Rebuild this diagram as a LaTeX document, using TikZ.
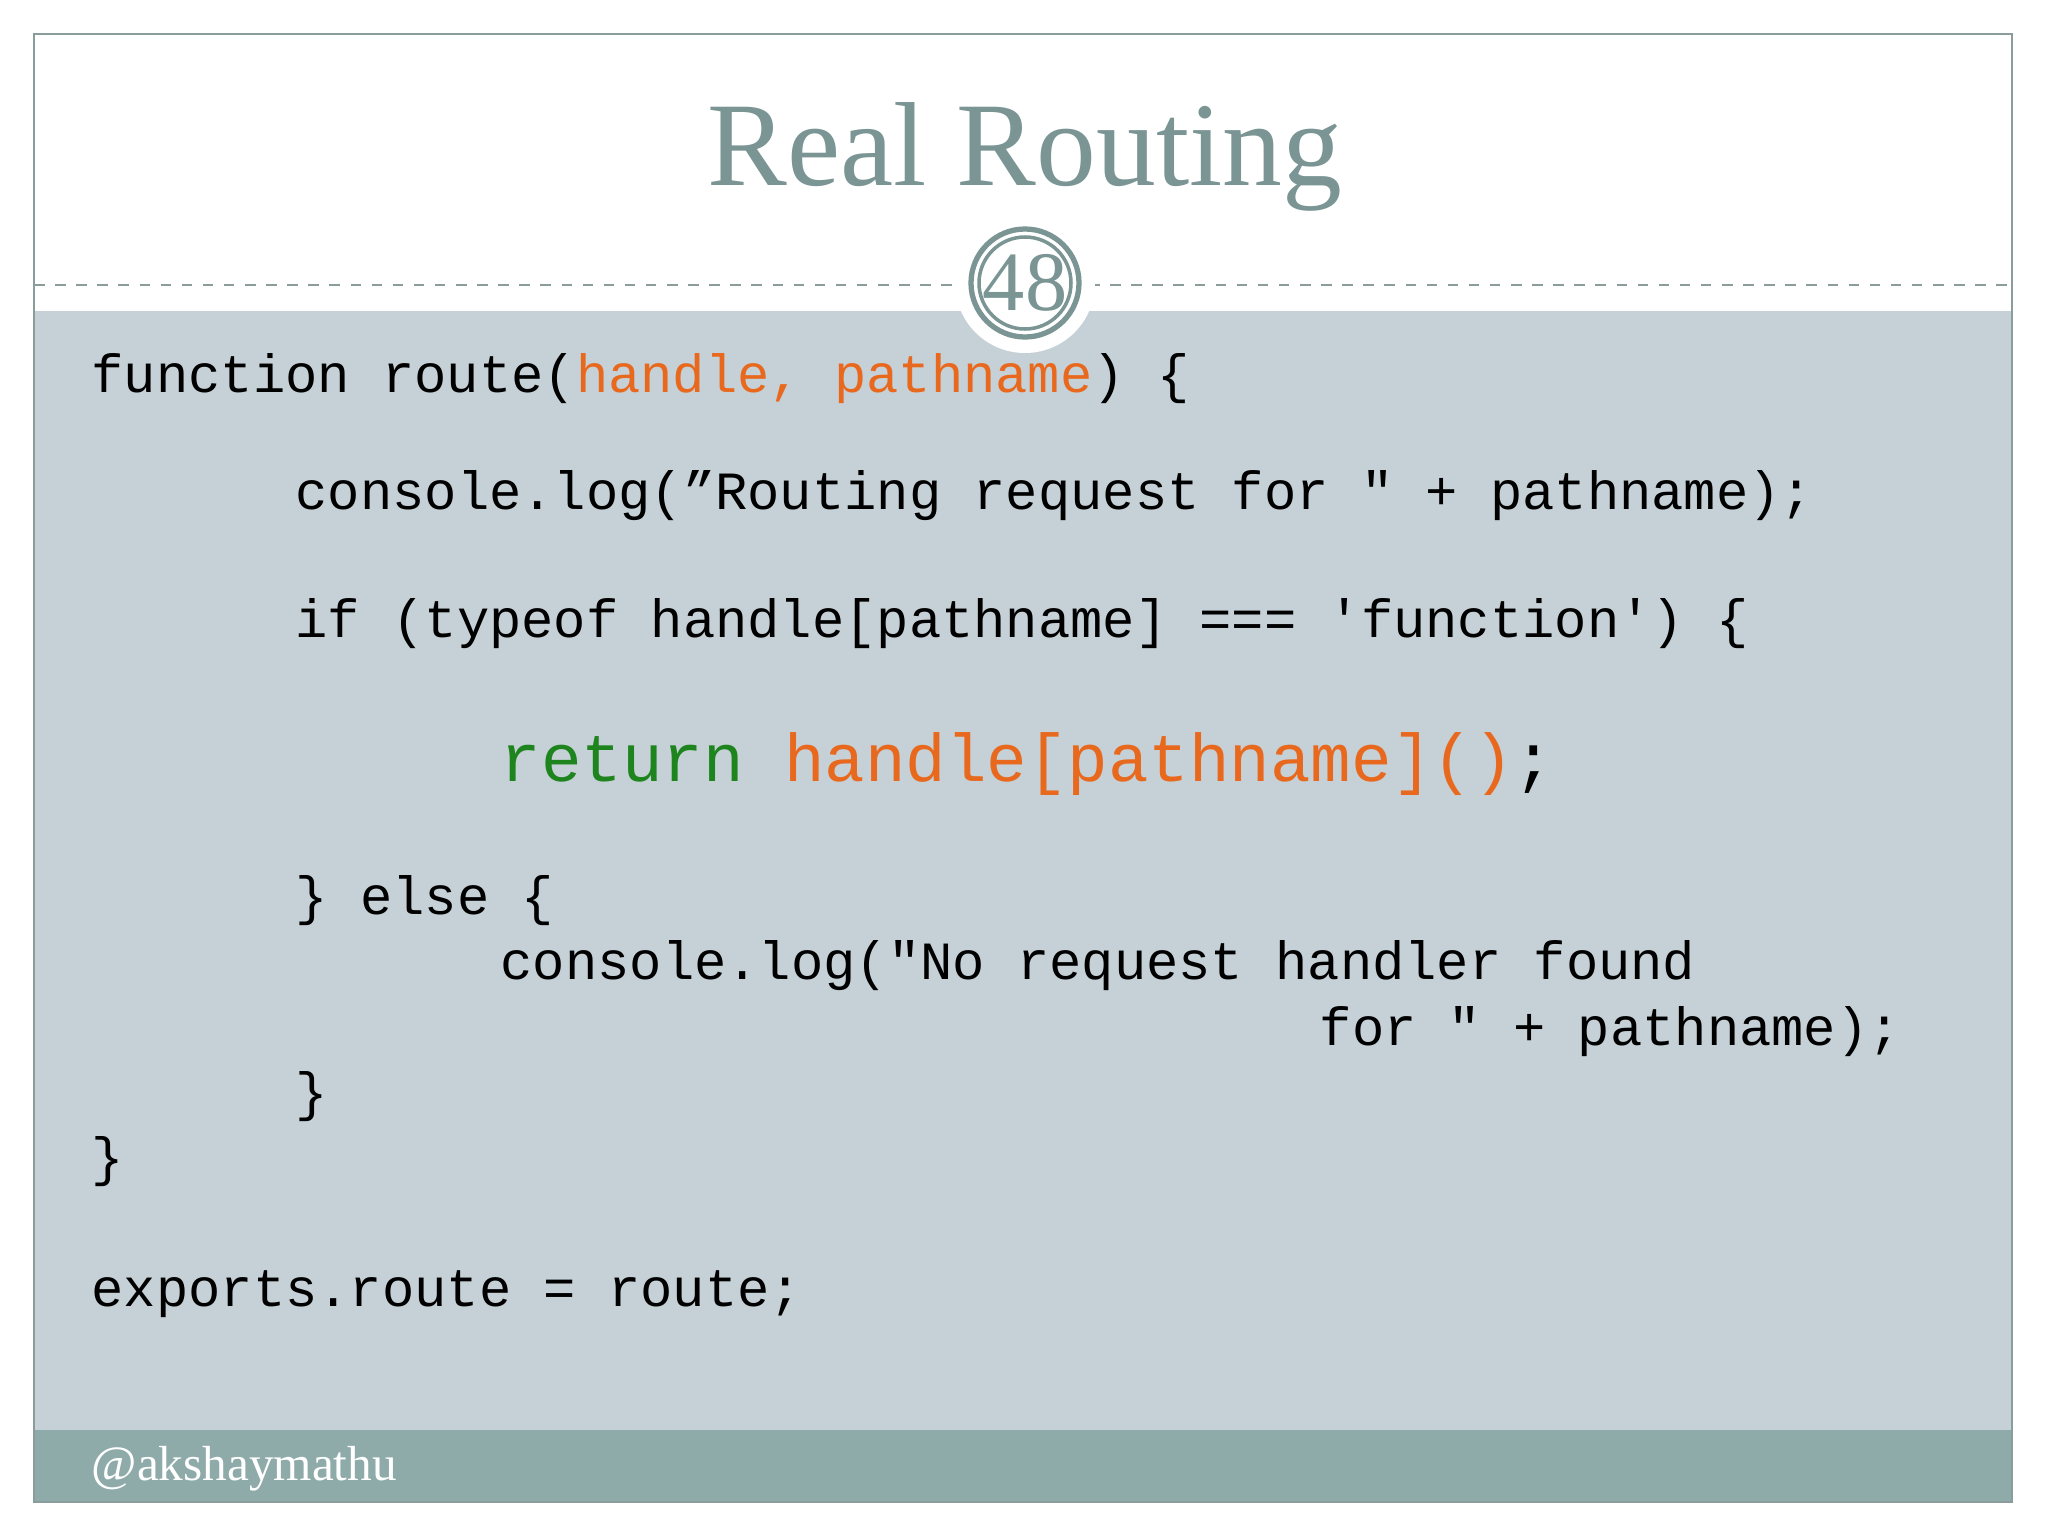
\documentclass[tikz,border=0pt]{standalone}
\usepackage{fontspec}
\setmainfont{Liberation Serif}
\setmonofont{Liberation Mono}
\definecolor{bodyc}{HTML}{C5D1D7}
\definecolor{footc}{HTML}{8EABAA}
\definecolor{titlec}{HTML}{7A9594}
\definecolor{orng}{HTML}{E8691E}
\definecolor{grn}{HTML}{1E851E}
\definecolor{framec}{HTML}{8A9C9C}
\tikzset{code/.style={anchor=base west,inner sep=0pt,font=\fontsize{15.3}{18}\ttfamily},
 bigcode/.style={anchor=base west,inner sep=0pt,font=\fontsize{19.2}{22}\ttfamily}}
\begin{document}
\begin{tikzpicture}[x={(0.01cm,0)},y={(0,-0.01cm)}]
\useasboundingbox (0,0) rectangle (2048,1536);
\fill[white] (0,0) rectangle (2048,1536);
\fill[bodyc] (34,311) rectangle (2012,1430);
\fill[footc] (34,1430) rectangle (2012,1502);
\draw[framec,line width=0.8pt] (34,34) rectangle (2012,1502);
\draw[framec,dashed,line width=0.5pt] (34,285) -- (2012,285);
\fill[white] (1025,283) circle (70);
\draw[titlec,line width=1.5pt] (1025,283) circle (54);
\draw[titlec,line width=1pt] (1025,283) circle (46);
\node[text=titlec,font=\fontsize{24}{28}\selectfont] (num) at (1025,283) {48};
\node[text=titlec,font=\fontsize{34}{40}\selectfont,anchor=base] (title) at (1025,185) {Real Routing};
\node[code] (l1) at (91,392) {function route(\textcolor{orng}{handle, pathname}) \{};
\node[code] (l2) at (295,509) {console.log(”Routing request for " + pathname);};
\node[code] (l3) at (295,637) {if (typeof handle[pathname] === 'function') \{};
\node[bigcode] (l4) at (500,781) {\textcolor{grn}{return} \textcolor{orng}{handle[pathname]()};};
\node[code] (l5) at (295,914) {\} else \{};
\node[code] (l6) at (500,979) {console.log("No request handler found};
\node[code] (l7) at (1319,1045) {for " + pathname);};
\node[code] (l8) at (295,1110) {\}};
\node[code] (l9) at (91,1175) {\}};
\node[code] (l10) at (91,1306) {exports.route = route;};
\node[anchor=base west,inner sep=0pt,text=white,font=\fontsize{14}{16}\selectfont] (foot) at (91,1480) {@akshaymathu};
\end{tikzpicture}
\end{document}
